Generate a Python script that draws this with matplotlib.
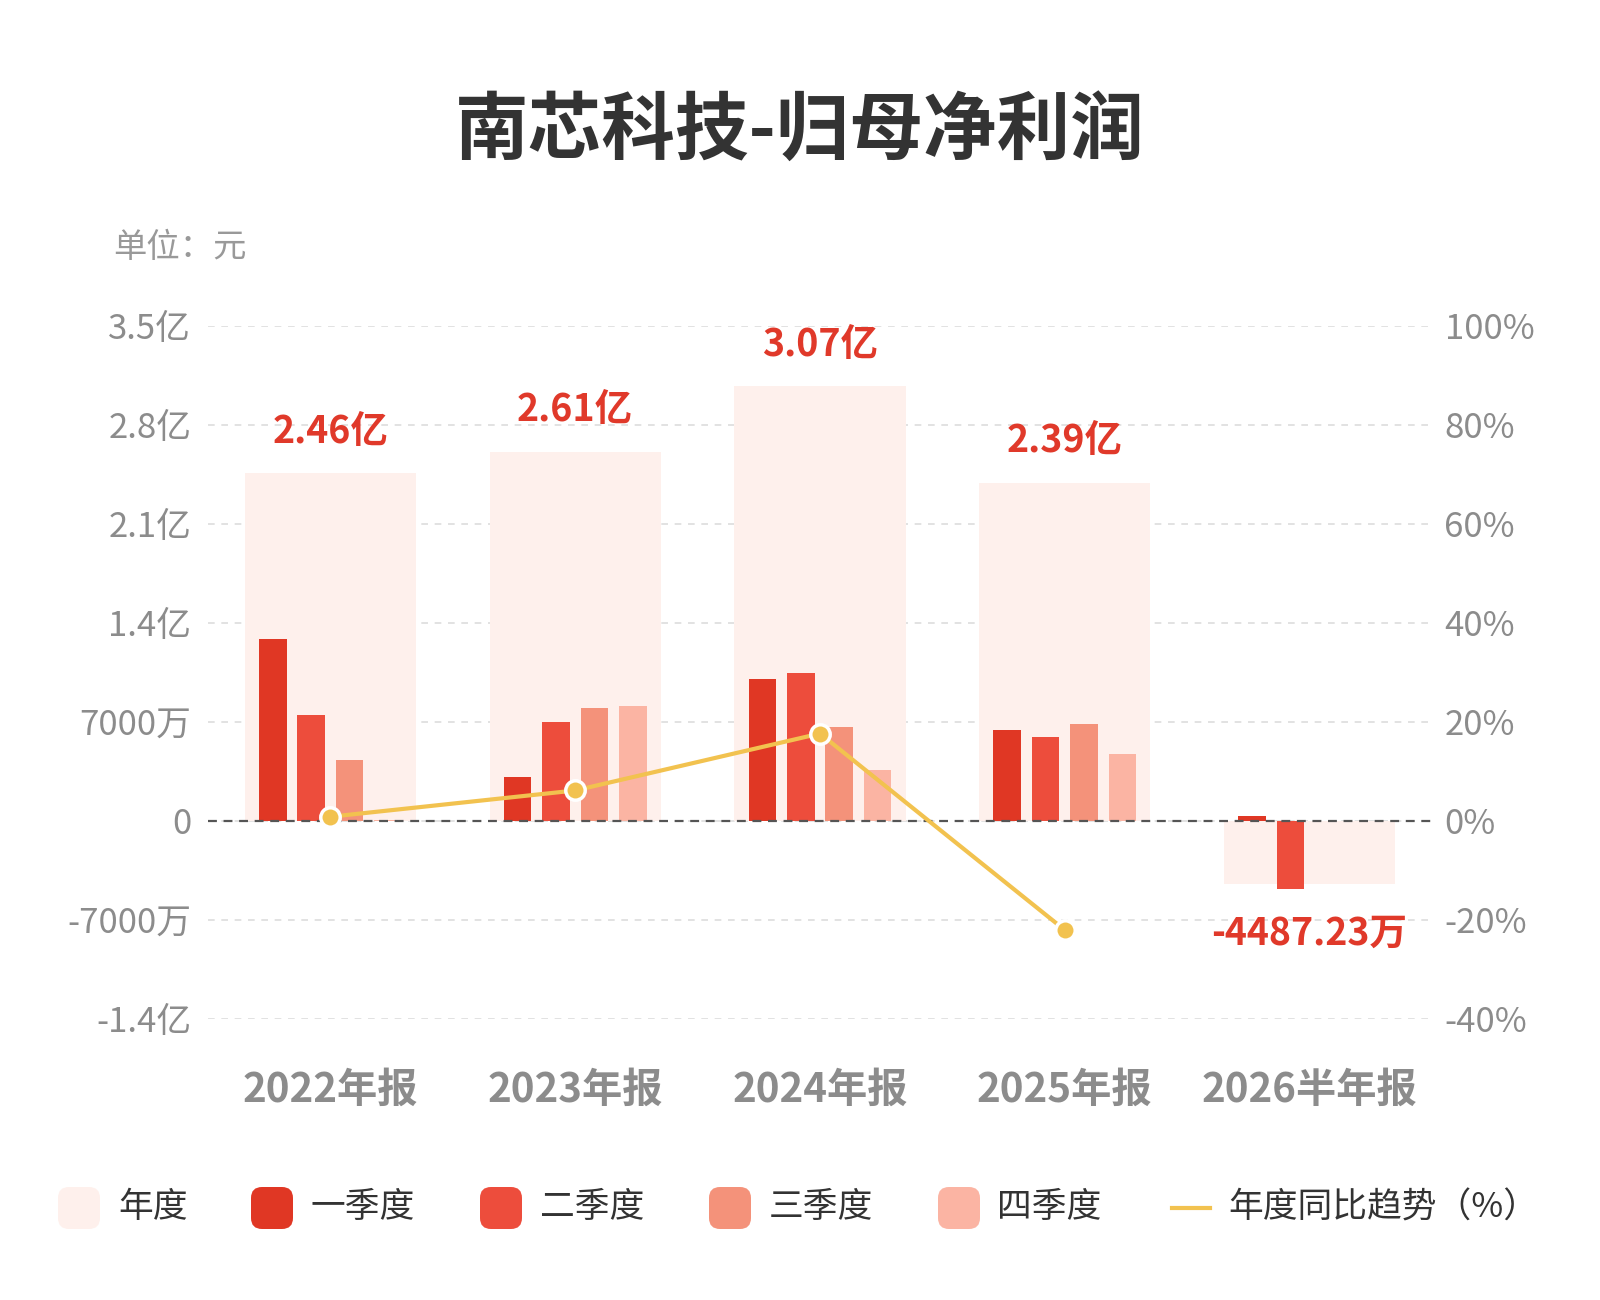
import numpy as np
import matplotlib
matplotlib.use("Agg")
import matplotlib.pyplot as plt
from matplotlib.patches import FancyBboxPatch

plt.rcParams['font.family'] = ['Noto Sans CJK SC', 'DejaVu Sans']

# data (yuan); 2026 is a half-year report, so only Q1/Q2
categories = ['2022年报', '2023年报', '2024年报', '2025年报', '2026半年报']
annual = [2.46e8, 2.61e8, 3.07e8, 2.39e8, -4487.23e4]
q1 = [1.283e8, 0.307e8, 1.005e8, 0.638e8, 0.034e8]
q2 = [0.745e8, 0.696e8, 1.045e8, 0.592e8, -0.483e8]
q3 = [0.430e8, 0.795e8, 0.665e8, 0.687e8, np.nan]
q4 = [0.002e8, 0.811e8, 0.355e8, 0.473e8, np.nan]
yoy = [0.8, 6.1, 17.6, -22.1, np.nan]

left_ticks = [-1.4e8, -0.7e8, 0, 0.7e8, 1.4e8, 2.1e8, 2.8e8, 3.5e8]
left_labels = ['-1.4亿', '-7000万', '0', '7000万', '1.4亿', '2.1亿', '2.8亿', '3.5亿']
right_ticks = [-40, -20, 0, 20, 40, 60, 80, 100]
right_labels = ['-40%', '-20%', '0%', '20%', '40%', '60%', '80%', '100%']

legend_names = ['年度', '一季度', '二季度', '三季度', '四季度', '年度同比趋势（%）']

c_year = '#fef0ec'
q_colors = ['#e03724', '#ed4d3c', '#f4927a', '#fbb4a3']
c_line = '#f2c24f'
c_label = '#e0392a'
c_tick = '#8c8c8c'

fig = plt.figure(figsize=(16, 13), dpi=100)
ax = fig.add_axes([0.13, 0.2164, 0.765, 0.5331])

x = np.arange(len(categories))
ax.bar(x, annual, width=0.70, color=c_year, zorder=1)

pitch = 0.157
for i, q in enumerate([q1, q2, q3, q4]):
    ax.bar(x + (i - 1.5) * pitch, q, width=0.113, color=q_colors[i], zorder=2)

ax.set_xlim(-0.5, 4.5)
ax.set_ylim(-1.4e8, 3.5e8)
ax.set_yticks(left_ticks)
ax.set_yticklabels(left_labels)
ax.set_xticks(x)
ax.set_xticklabels(categories, fontsize=29, fontweight='bold', color=c_tick)
ax.tick_params(axis='y', length=0, pad=12, labelsize=25, labelcolor=c_tick)
ax.tick_params(axis='x', length=0, pad=37)
for s in ax.spines.values():
    s.set_visible(False)
ax.grid(axis='y', color='#dddddd', linestyle=(0, (4, 4)), linewidth=1.2, zorder=0)
ax.set_axisbelow(True)
ax.axhline(0, color='#555555', linestyle=(0, (4, 3)), linewidth=1.6, zorder=5)

for xi, v in zip(x, annual):
    if abs(v) >= 1e8:
        txt = f'{v / 1e8:.2f}亿'
    else:
        txt = f'{v / 1e4:.2f}万'
    off = 30 if v > 0 else -35
    ax.annotate(txt, (xi, v), xytext=(0, off), textcoords='offset points',
                ha='center', va='center', fontsize=27, fontweight='bold',
                color=c_label, zorder=6)

ax2 = ax.twinx()
ax2.set_ylim(-40, 100)
ax2.set_yticks(right_ticks)
ax2.set_yticklabels(right_labels)
ax2.tick_params(axis='y', length=0, pad=9, labelsize=25, labelcolor=c_tick)
for s in ax2.spines.values():
    s.set_visible(False)
ax2.plot(x, yoy, color=c_line, linewidth=3, marker='o', markersize=14,
         markerfacecolor=c_line, markeredgecolor='white', markeredgewidth=2.5,
         zorder=10)

# title, unit and legend on a pixel-coordinate overlay
ov = fig.add_axes([0, 0, 1, 1], facecolor='none')
ov.set_xlim(0, 1600)
ov.set_ylim(1300, 0)
ov.axis('off')
ov.text(800, 133, '南芯科技-归母净利润', ha='center', va='center',
        fontsize=53, fontweight='bold', color='#333333')
ov.text(113, 248, '单位：元', ha='left', va='center', fontsize=24, color='#999999')

sq_x = [58, 251, 480, 709, 938]
txt_x = [118, 311, 540, 769, 997, 1228]
leg_y = 1208
sq_colors = [c_year] + q_colors
r = 11
for sx, col in zip(sq_x, sq_colors):
    ov.add_patch(FancyBboxPatch((sx + r, leg_y - 21 + r), 42 - 2 * r, 42 - 2 * r,
                                boxstyle=f'round,pad={r}', facecolor=col,
                                edgecolor='none'))
ov.plot([1172, 1210], [leg_y, leg_y], color=c_line, linewidth=3)
for tx, name in zip(txt_x, legend_names):
    ov.text(tx, leg_y, name, ha='left', va='center', fontsize=25, color='#333333')

fig.savefig('out.png', dpi=100, facecolor='white')
